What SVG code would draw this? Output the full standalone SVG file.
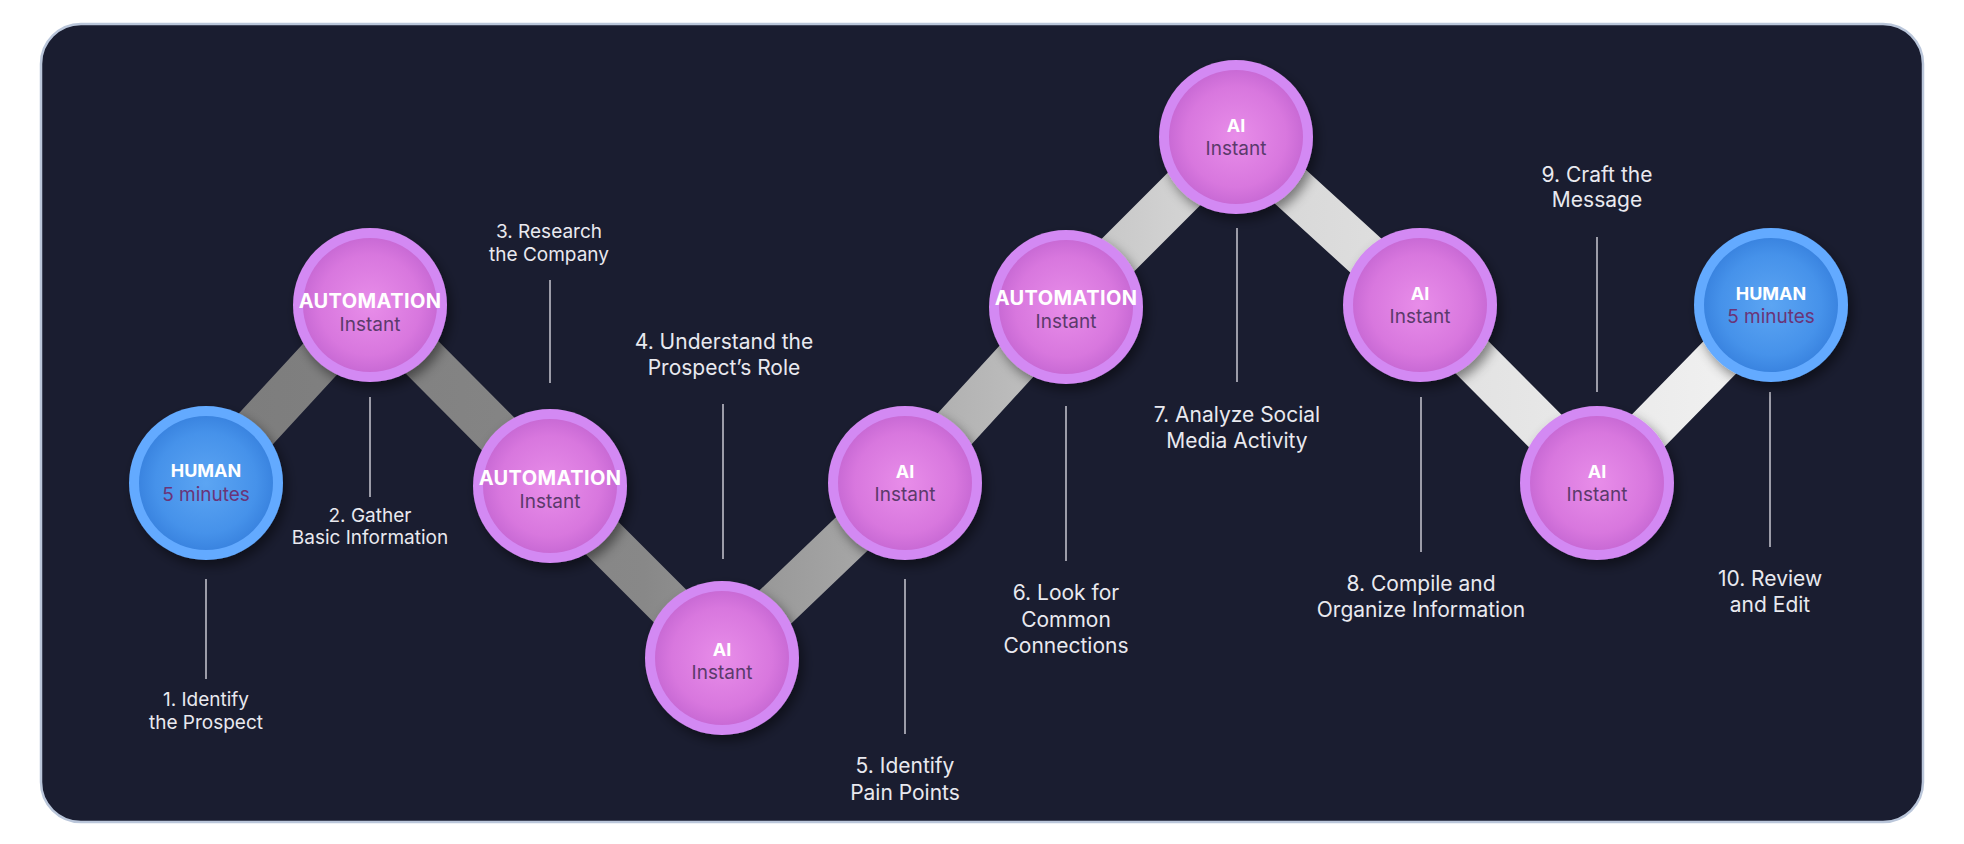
<svg xmlns="http://www.w3.org/2000/svg" width="1964" height="844" viewBox="0 0 1964 844">
<defs>
<style>
.lbl{font-family:Inter,"Liberation Sans",sans-serif;fill:#e9e9ef;text-anchor:middle}
.s{font-size:19px}
.l{font-size:21px}
.t{font-family:Inter,"Liberation Sans",sans-serif;text-anchor:middle}
.b{font-size:18px;font-weight:700;fill:#ffffff}
.ba{font-size:20px;letter-spacing:0.4px}
.sub{font-size:19px;fill:#5b3a6b}
.subh{font-size:19px;fill:#6a3478}
.lead{stroke:#9c9ca8;stroke-width:2}
.ringP{fill:#d389f3}
.ringB{fill:#63aaff}
.inP{fill:url(#gP)}
.inB{fill:url(#gB)}
</style>
<radialGradient id="gP" cx="0.5" cy="0.5" r="0.5">
<stop offset="0" stop-color="#e88de9"/>
<stop offset="0.75" stop-color="#d877de"/>
<stop offset="1" stop-color="#c96ad5"/>
</radialGradient>
<radialGradient id="gB" cx="0.5" cy="0.5" r="0.5">
<stop offset="0" stop-color="#5ca5f3"/>
<stop offset="0.75" stop-color="#4692ea"/>
<stop offset="1" stop-color="#3a84e0"/>
</radialGradient>
<linearGradient id="gBar" gradientUnits="userSpaceOnUse" x1="206" y1="0" x2="1771" y2="0">
<stop offset="0" stop-color="#7c7c7c"/>
<stop offset="0.28" stop-color="#888888"/>
<stop offset="0.4" stop-color="#a2a2a2"/>
<stop offset="0.52" stop-color="#bcbcbc"/>
<stop offset="0.62" stop-color="#d2d2d2"/>
<stop offset="0.75" stop-color="#dedede"/>
<stop offset="0.86" stop-color="#e7e7e7"/>
<stop offset="1" stop-color="#f2f2f2"/>
</linearGradient>
<filter id="sh" x="-30%" y="-30%" width="160%" height="160%">
<feDropShadow dx="4" dy="6" stdDeviation="6" flood-color="#000000" flood-opacity="0.45"/>
</filter>
</defs>

<rect x="41" y="24" width="1882" height="798" rx="40" ry="40" fill="#1a1d30" stroke="#bac6da" stroke-width="2.5"/>

<g id="connectors">
<path d="M206,483 L370,305 L550,486 L722,658 L905,483 L1066,307 L1236,137 L1420,305 L1597,483 L1771,305" fill="none" stroke="url(#gBar)" stroke-width="46" stroke-linejoin="round"/>
</g>

<g id="leaders">
<line class="lead" x1="206" y1="579" x2="206" y2="679"/>
<line class="lead" x1="370" y1="397" x2="370" y2="497"/>
<line class="lead" x1="550" y1="280" x2="550" y2="383"/>
<line class="lead" x1="723" y1="404" x2="723" y2="559"/>
<line class="lead" x1="905" y1="579" x2="905" y2="734"/>
<line class="lead" x1="1066" y1="406" x2="1066" y2="561"/>
<line class="lead" x1="1237" y1="228" x2="1237" y2="382"/>
<line class="lead" x1="1421" y1="397" x2="1421" y2="552"/>
<line class="lead" x1="1597" y1="237" x2="1597" y2="392"/>
<line class="lead" x1="1770" y1="392" x2="1770" y2="547"/>
</g>

<g id="node1">
<g filter="url(#sh)"><circle class="ringB" cx="206" cy="483" r="77"/></g>
<circle class="inB" cx="206" cy="483" r="67"/>
<text class="t b" x="206" y="477">HUMAN</text>
<text class="t subh" x="206" y="501">5 minutes</text>
<text class="lbl s" x="206" y="706">1. Identify</text>
<text class="lbl s" x="206" y="729">the Prospect</text>
</g>

<g id="node2">
<g filter="url(#sh)"><circle class="ringP" cx="370" cy="305" r="77"/></g>
<circle class="inP" cx="370" cy="305" r="67"/>
<text class="t b ba" x="370" y="308">AUTOMATION</text>
<text class="t sub" x="370" y="331">Instant</text>
<text class="lbl s" x="370" y="522">2. Gather</text>
<text class="lbl s" x="370" y="544">Basic Information</text>
</g>

<g id="node3">
<g filter="url(#sh)"><circle class="ringP" cx="550" cy="486" r="77"/></g>
<circle class="inP" cx="550" cy="486" r="67"/>
<text class="t b ba" x="550" y="485">AUTOMATION</text>
<text class="t sub" x="550" y="508">Instant</text>
<text class="lbl s" x="549" y="238">3. Research</text>
<text class="lbl s" x="549" y="261">the Company</text>
</g>

<g id="node4">
<g filter="url(#sh)"><circle class="ringP" cx="722" cy="658" r="77"/></g>
<circle class="inP" cx="722" cy="658" r="67"/>
<text class="t b" x="722" y="656">AI</text>
<text class="t sub" x="722" y="679">Instant</text>
<text class="lbl l" x="724" y="349">4. Understand the</text>
<text class="lbl l" x="724" y="375">Prospect’s Role</text>
</g>

<g id="node5">
<g filter="url(#sh)"><circle class="ringP" cx="905" cy="483" r="77"/></g>
<circle class="inP" cx="905" cy="483" r="67"/>
<text class="t b" x="905" y="478">AI</text>
<text class="t sub" x="905" y="501">Instant</text>
<text class="lbl l" x="905" y="773">5. Identify</text>
<text class="lbl l" x="905" y="800">Pain Points</text>
</g>

<g id="node6">
<g filter="url(#sh)"><circle class="ringP" cx="1066" cy="307" r="77"/></g>
<circle class="inP" cx="1066" cy="307" r="67"/>
<text class="t b ba" x="1066" y="305">AUTOMATION</text>
<text class="t sub" x="1066" y="328">Instant</text>
<text class="lbl l" x="1066" y="600">6. Look for</text>
<text class="lbl l" x="1066" y="627">Common</text>
<text class="lbl l" x="1066" y="653">Connections</text>
</g>

<g id="node7">
<g filter="url(#sh)"><circle class="ringP" cx="1236" cy="137" r="77"/></g>
<circle class="inP" cx="1236" cy="137" r="67"/>
<text class="t b" x="1236" y="132">AI</text>
<text class="t sub" x="1236" y="155">Instant</text>
<text class="lbl l" x="1237" y="422">7. Analyze Social</text>
<text class="lbl l" x="1237" y="448">Media Activity</text>
</g>

<g id="node8">
<g filter="url(#sh)"><circle class="ringP" cx="1420" cy="305" r="77"/></g>
<circle class="inP" cx="1420" cy="305" r="67"/>
<text class="t b" x="1420" y="300">AI</text>
<text class="t sub" x="1420" y="323">Instant</text>
<text class="lbl l" x="1421" y="591">8. Compile and</text>
<text class="lbl l" x="1421" y="617">Organize Information</text>
</g>

<g id="node9">
<g filter="url(#sh)"><circle class="ringP" cx="1597" cy="483" r="77"/></g>
<circle class="inP" cx="1597" cy="483" r="67"/>
<text class="t b" x="1597" y="478">AI</text>
<text class="t sub" x="1597" y="501">Instant</text>
<text class="lbl l" x="1597" y="182">9. Craft the</text>
<text class="lbl l" x="1597" y="207">Message</text>
</g>

<g id="node10">
<g filter="url(#sh)"><circle class="ringB" cx="1771" cy="305" r="77"/></g>
<circle class="inB" cx="1771" cy="305" r="67"/>
<text class="t b" x="1771" y="300">HUMAN</text>
<text class="t subh" x="1771" y="323">5 minutes</text>
<text class="lbl l" x="1770" y="586">10. Review</text>
<text class="lbl l" x="1770" y="612">and Edit</text>
</g>
</svg>
